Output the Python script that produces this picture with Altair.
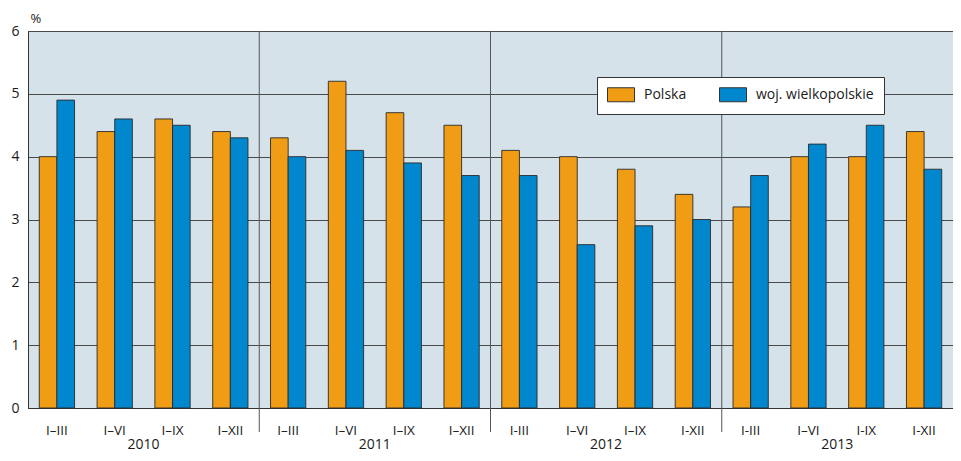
import altair as alt
import pandas as pd

years = ["2010", "2011", "2012", "2013"]
period_labels = [
    "I–III", "I–VI", "I–IX", "I–XII",
    "I–III", "I–VI", "I–IX", "I–XII",
    "I-III", "I–VI", "I–IX", "I-XII",
    "I-III", "I–VI", "I-IX", "I-XII",
]
polska = [4.0, 4.4, 4.6, 4.4, 4.3, 5.2, 4.7, 4.5, 4.1, 4.0, 3.8, 3.4, 3.2, 4.0, 4.0, 4.4]
wielkopolskie = [4.9, 4.6, 4.5, 4.3, 4.0, 4.1, 3.9, 3.7, 3.7, 2.6, 2.9, 3.0, 3.7, 4.2, 4.5, 3.8]
series = ["Polska", "woj. wielkopolskie"]
colors = ["#F09C14", "#0087CD"]
y_ticks = [0, 1, 2, 3, 4, 5, 6]

keys = [f"{years[i // 4]}|{lab}" for i, lab in enumerate(period_labels)]
rows = []
for i, key in enumerate(keys):
    yr = years[i // 4]
    rows.append({"key": key, "year": yr, "series": series[0], "value": polska[i]})
    rows.append({"key": key, "year": yr, "series": series[1], "value": wielkopolskie[i]})
df = pd.DataFrame(rows)
df_years = pd.DataFrame({"year": years})
df_sep = pd.DataFrame({"year": years[1:]})

FONT = "Open Sans"
TXT = "#1a1a1a"

bars = alt.Chart(df).mark_bar(stroke="#2a2a2a", strokeWidth=0.9).encode(
    x=alt.X(
        "key:N",
        sort=keys,
        scale=alt.Scale(domain=keys, paddingInner=0.39, paddingOuter=0.195),
        axis=alt.Axis(
            title=None,
            labelExpr="split(datum.label, '|')[1]",
            ticks=False,
            tickSize=0,
            labelPadding=15,
            labelAngle=0,
            labelFontSize=13.5,
            labelColor=TXT,
            labelFont=FONT,
            domainColor="#333333",
            grid=False,
        ),
    ),
    xOffset=alt.XOffset(
        "series:N", sort=series, scale=alt.Scale(domain=series, paddingInner=0, paddingOuter=0)
    ),
    y=alt.Y(
        "value:Q",
        scale=alt.Scale(domain=[0, 6], nice=False),
        axis=alt.Axis(
            values=y_ticks,
            title="%",
            titleAngle=0,
            titleAlign="left",
            titleBaseline="middle",
            titleX=2,
            titleY=-13,
            titleFontSize=13,
            titleFontWeight="normal",
            titleColor=TXT,
            titleFont=FONT,
            ticks=False,
            tickSize=0,
            labelPadding=9,
            labelFontSize=14,
            labelColor=TXT,
            labelFont=FONT,
            domainColor="#333333",
            grid=True,
            gridColor="#4a4a4a",
            gridWidth=1,
        ),
    ),
    color=alt.Color(
        "series:N",
        sort=series,
        scale=alt.Scale(domain=series, range=colors),
        legend=alt.Legend(
            title=None,
            orient="none",
            legendX=569,
            legendY=46,
            direction="horizontal",
            fillColor="white",
            strokeColor="#333333",
            padding=10,
            symbolType="M-1,-1H2.86V1H-1Z",
            symbolSize=196,
            symbolStrokeColor="#333333",
            symbolStrokeWidth=1,
            symbolOpacity=1,
            labelFontSize=14,
            labelFont=FONT,
            labelColor=TXT,
            labelOffset=22,
            columnPadding=30,
        ),
    ),
)

separators = alt.Chart(df_sep).mark_rule(color="#555555", strokeWidth=1).encode(
    x=alt.X(
        "year:N",
        bandPosition=0,
        scale=alt.Scale(domain=years, paddingInner=0, paddingOuter=0),
        axis=None,
    ),
    y=alt.value(0),
    y2=alt.value(401),
)

year_text = alt.Chart(df_years).mark_text(
    fontSize=14, font=FONT, color=TXT, baseline="alphabetic", align="center"
).encode(
    x=alt.X(
        "year:N",
        scale=alt.Scale(domain=years, paddingInner=0, paddingOuter=0),
        axis=None,
    ),
    y=alt.value(418),
    text="year:N",
)

chart = (
    alt.layer(separators, bars, year_text)
    .resolve_scale(x="independent")
    .properties(
        width=925,
        height=377,
        autosize=alt.AutoSizeParams(type="none"),
        padding={"left": 20, "top": 23, "right": 0, "bottom": 44},
        background="white",
    )
    .configure(font=FONT)
    .configure_view(fill="#D5E2E9", stroke="#333333", strokeWidth=1)
)

chart.save("out.html", embed_options={"renderer": "svg", "actions": False})
